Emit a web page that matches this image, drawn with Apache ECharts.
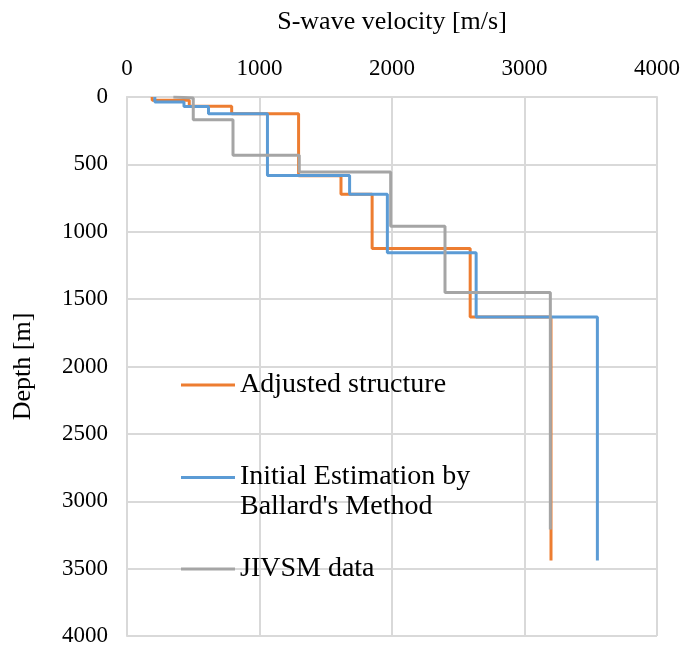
<!DOCTYPE html>
<html>
<head>
<meta charset="utf-8">
<script src="https://cdn.jsdelivr.net/npm/echarts@6/dist/echarts.min.js"></script>
<style>
html,body{margin:0;padding:0;background:#fff;}
#chart{width:686px;height:646px;}
</style>
</head>
<body>
<div id="chart"></div>
<script>
// Layer velocities (m/s) and layer boundary depths (m)
var adjustedVs     = [190, 470, 790, 1295, 1615, 1850, 2590, 3200];
var adjustedDepths = [0, 25, 68, 125, 585, 722, 1125, 1632, 3440];

var initialVs      = [210, 430, 615, 1060, 1680, 1965, 2635, 3550];
var initialDepths  = [0, 38, 70, 125, 582, 722, 1155, 1632, 3440];

var jivsmVs        = [350, 500, 800, 1300, 1990, 2400, 3195];
var jivsmDepths    = [0, 8, 168, 433, 557, 960, 1450, 3210];

var xTicks = [0, 1000, 2000, 3000, 4000];
var yTicks = [0, 500, 1000, 1500, 2000, 2500, 3000, 3500, 4000];

var names = ['Adjusted structure', "Initial Estimation by\nBallard's Method", 'JIVSM data'];
var colors = ['#ED7D31', '#5B9BD5', '#A5A5A5'];

function stepPoints(vs, depths) {
  var pts = [];
  for (var i = 0; i < vs.length; i++) {
    pts.push([vs[i], depths[i]]);
    pts.push([vs[i], depths[i + 1]]);
  }
  return pts;
}

var serif = 'Liberation Serif';
var chart = echarts.init(document.getElementById('chart'));

function legendOf(i, top, twoLine) {
  return {
    data: [{ name: names[i],
             icon: twoLine ? 'path://M0,0H54V3H0Z M0,32H0.01V32.01H0Z' : 'rect' }],
    left: 176,
    top: top,
    orient: 'vertical',
    itemWidth: 54,
    itemHeight: twoLine ? 32 : 3,
    itemGap: 0,
    selectedMode: false,
    textStyle: { fontFamily: serif, fontSize: 28, color: '#000', lineHeight: 30 }
  };
}

chart.setOption({
  animation: false,
  backgroundColor: '#fff',
  grid: { left: 127, right: 29, top: 97, bottom: 10, containLabel: false, outerBoundsMode: 'none' },
  legend: [legendOf(0, 365, false), legendOf(1, 457, true), legendOf(2, 549, false)],
  xAxis: {
    type: 'value', position: 'top', min: xTicks[0], max: xTicks[xTicks.length - 1], interval: 1000,
    name: 'S-wave velocity [m/s]', nameLocation: 'middle', nameGap: 62,
    nameTextStyle: { fontFamily: serif, fontSize: 26, color: '#000' },
    axisLine: { show: true, lineStyle: { color: '#d9d9d9', width: 2 } },
    axisTick: { show: false },
    axisLabel: { fontFamily: serif, fontSize: 23, color: '#000', margin: 17,
                 formatter: function (v) { return String(v); } },
    splitLine: { show: true, lineStyle: { color: '#d9d9d9', width: 2 } }
  },
  yAxis: {
    type: 'value', inverse: true, min: yTicks[0], max: yTicks[yTicks.length - 1], interval: 500,
    name: 'Depth [m]', nameLocation: 'middle', nameGap: 91, nameRotate: 90,
    nameTextStyle: { fontFamily: serif, fontSize: 26, color: '#000' },
    axisLine: { show: true, lineStyle: { color: '#d9d9d9', width: 2 } },
    axisTick: { show: false },
    axisLabel: { fontFamily: serif, fontSize: 23, color: '#000', margin: 19,
                 formatter: function (v) { return String(v); } },
    splitLine: { show: true, lineStyle: { color: '#d9d9d9', width: 2 } }
  },
  series: [
    { name: names[0], type: 'line', data: stepPoints(adjustedVs, adjustedDepths), showSymbol: false, symbol: 'none',
      lineStyle: { color: colors[0], width: 3 }, itemStyle: { color: colors[0] }, z: 2 },
    { name: names[1], type: 'line', data: stepPoints(initialVs, initialDepths), showSymbol: false, symbol: 'none',
      lineStyle: { color: colors[1], width: 3 }, itemStyle: { color: colors[1] }, z: 3 },
    { name: names[2], type: 'line', data: stepPoints(jivsmVs, jivsmDepths), showSymbol: false, symbol: 'none',
      lineStyle: { color: colors[2], width: 3 }, itemStyle: { color: colors[2] }, z: 4 }
  ]
});
</script>
</body>
</html>
